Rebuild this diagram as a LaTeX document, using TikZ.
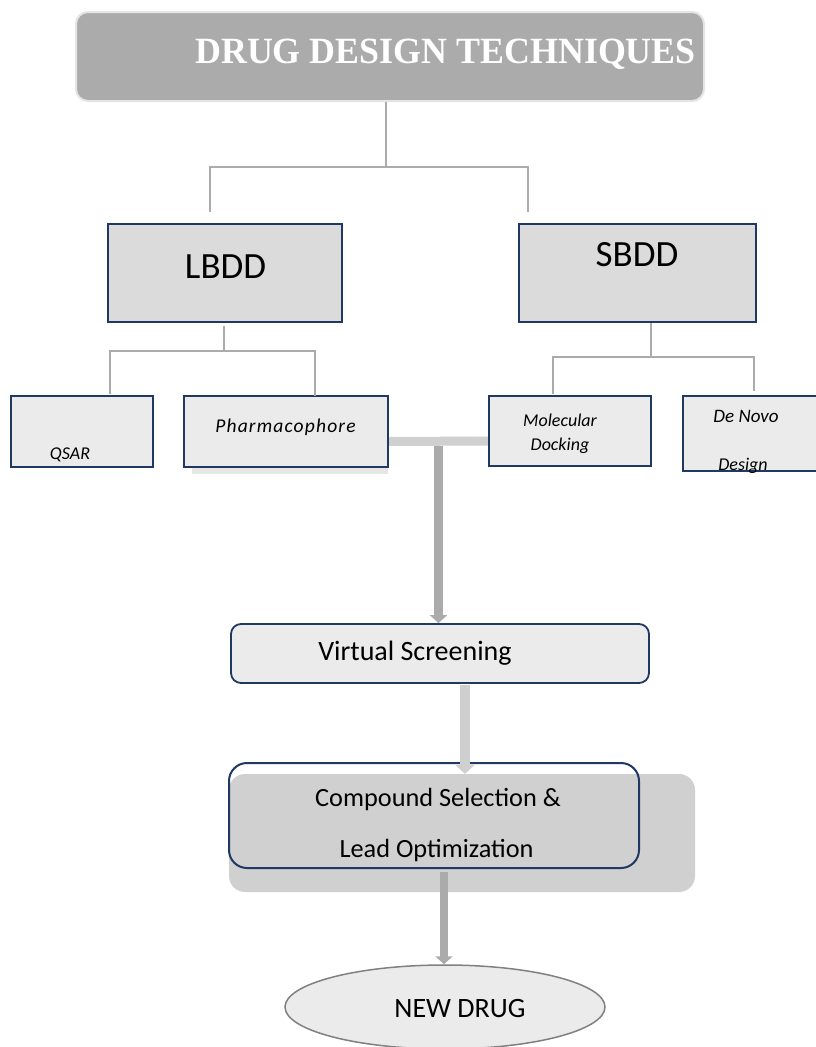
\documentclass[tikz,border=0pt]{standalone}
\usepackage{fontspec}
\setmainfont{Carlito}
\newfontfamily\titlefont{Liberation Serif}
\usetikzlibrary{arrows.meta,calc,shapes.geometric}
\definecolor{navy}{HTML}{1F3864}
\definecolor{titlegray}{HTML}{ABABAB}
\definecolor{titleborder}{HTML}{E4E4E4}
\definecolor{bigfill}{HTML}{DBDBDB}
\definecolor{smallfill}{HTML}{EBEBEB}
\definecolor{treegray}{HTML}{ABABAB}
\definecolor{arrdark}{HTML}{ABABAB}
\definecolor{arrlight}{HTML}{CFCFCF}
\definecolor{compgray}{HTML}{D0D0D0}
\definecolor{shadowgray}{HTML}{E6E6E6}
\definecolor{ndborder}{HTML}{808080}
\begin{document}
\begin{tikzpicture}[x=1pt,y=-1pt,
  bigbox/.style={draw=navy, line width=2.2pt, fill=bigfill, inner sep=0pt},
  smallbox/.style={draw=navy, line width=2.2pt, fill=smallfill, inner sep=0pt},
  txt/.style={anchor=base, inner sep=0pt, text=black},
  tree/.style={draw=treegray, line width=1.5pt},
  arrdk/.style={draw=arrdark, line width=8.5pt, -{Triangle[width=17pt,length=8pt]}},
  arrlt/.style={draw=arrlight, line width=10pt, -{Triangle[width=19pt,length=9pt]}},
  barline/.style={draw=compgray, line width=9pt}
]
\useasboundingbox (0,0) rectangle (815,1047);
\fill[white] (0,0) rectangle (815,1047);

% title
\node[draw=titleborder, line width=2pt, fill=titlegray, rounded corners=12pt,
      minimum width=628pt, minimum height=89pt, inner sep=0pt] (title) at (390,56.5) {};
\node[txt, text=white] (titletext) at (445.5,63) {\titlefont\bfseries\fontsize{37}{40}\selectfont\scalebox{0.97}[1]{DRUG DESIGN TECHNIQUES}};

% level 1
\node[bigbox, minimum width=234pt, minimum height=98pt] (lbdd) at (225,273) {};
\node[txt] (lbddtext) at (225.6,278) {\fontsize{37}{40}\selectfont LBDD};
\node[bigbox, minimum width=237pt, minimum height=98pt] (sbdd) at (637.5,273) {};
\node[txt] (sbddtext) at (637,266) {\fontsize{37}{40}\selectfont SBDD};

% level 2
\fill[shadowgray] (192,467) rectangle (388,474);
\node[smallbox, minimum width=142pt, minimum height=71pt] (qsar) at (82,431.5) {};
\node[txt] (qsartext) at (70,459) {\fontsize{18}{22}\selectfont\itshape QSAR};
\node[smallbox, minimum width=204pt, minimum height=71pt] (pharm) at (286,431.5) {};
\node[txt] (pharmtext) at (285.5,432) {\fontsize{19.5}{22}\selectfont\itshape\addfontfeatures{LetterSpace=6}Pharmacophore};
\node[smallbox, minimum width=162pt, minimum height=70pt] (dock) at (570,431) {};
\node[txt] (docktext1) at (560,426) {\fontsize{18}{22}\selectfont\itshape Molecular};
\node[txt] (docktext2) at (560,450) {\fontsize{18}{22}\selectfont\itshape Docking};
\node[smallbox, minimum width=134pt, minimum height=75pt] (denovo) at (750,433.5) {};
\node[txt] (denovotext1) at (746,422) {\fontsize{19}{22}\selectfont\itshape De Novo};
\node[txt] (denovotext2) at (743,470) {\fontsize{18}{22}\selectfont\itshape Design};

% tree connectors
\coordinate (t1) at (386,167);
\coordinate (la) at (210,212);
\coordinate (sa) at (528,212);
\draw[tree] (t1 |- title.south) -- (t1);
\draw[tree] (la) -- (la |- t1) -- (sa |- t1) -- (sa);

\coordinate (lj) at (224,351);
\draw[tree] ($(lbdd.south)+(-1,3)$) -- (lj);
\draw[tree] ($(qsar.north)+(28,-1)$) |- (lj) -| ($(pharm.north)+(29,1)$);

\coordinate (sj) at (651,357);
\draw[tree] ($(sbdd.south)+(13.5,0)$) -- (sj);
\draw[tree] ($(dock.north)+(-17,-1)$) |- (sj) -| ($(denovo.north)+(4,-4)$);

% bar and arrows
\node[draw=navy, line width=1.8pt, fill=smallfill, rounded corners=10pt,
      minimum width=418pt, minimum height=59pt, inner sep=0pt] (vs) at (440,653.5) {};
\node[txt] (vstext) at (415,660) {\fontsize{28}{32}\selectfont Virtual Screening};

\node[fill=compgray, rounded corners=16pt, minimum width=466pt, minimum height=118pt, inner sep=0pt] (cgray) at (462,833) {};
\node[draw=navy, line width=2pt, rounded corners=18pt, minimum width=410pt, minimum height=105pt, inner sep=0pt] (comp) at (434,815.5) {};
\node[txt] (comptext1) at (438,806) {\fontsize{26.3}{32}\selectfont Compound Selection \&};
\node[txt] (comptext2) at (436.5,857) {\fontsize{26.3}{32}\selectfont Lead Optimization};

\node[ellipse, draw=ndborder, line width=1.5pt, fill=smallfill, minimum width=320pt, minimum height=84pt, inner sep=0pt] (nd) at (445,1007) {};
\node[txt] (ndtext) at (460,1017) {\fontsize{28}{32}\selectfont NEW DRUG};

\draw[barline] ($(pharm.east)+(0,10)$) -- ($(dock.west)+(0,10)$);
\coordinate (j) at (438.5,446);
\draw[arrdk] (j) -- (j |- vs.north);
\coordinate (a2) at ($(vs.south)+(25,1)$);
\draw[arrlt] (a2) -- (a2 |- cgray.north);
\coordinate (a3) at ($(comp.south)+(10,3)$);
\draw[arrdk] (a3) -- (a3 |- nd.north);
\end{tikzpicture}
\end{document}
